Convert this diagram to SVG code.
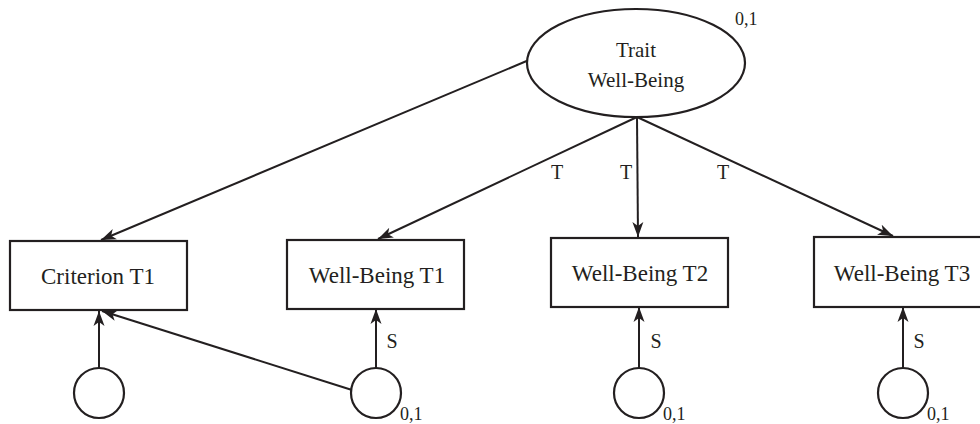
<svg xmlns="http://www.w3.org/2000/svg" width="980" height="424" viewBox="0 0 980 424">
<defs>
<style>
.box{fill:#fff;stroke:#231f20;stroke-width:2.2}
.ln{fill:none;stroke:#231f20;stroke-width:2}
text{font-family:'Liberation Serif','Times New Roman',Tinos,'DejaVu Serif',serif;fill:#231f20}
.big{font-size:23px}
.mid{font-size:21px}
.sm{font-size:20px}
.xs{font-size:18px}
</style>
<marker id="ah" markerUnits="userSpaceOnUse" markerWidth="16" markerHeight="12" viewBox="0 0 16 12" refX="15" refY="6" orient="auto">
<path d="M0,0.5 L15,6 L0,11.5 L4,6 Z" fill="#231f20"/>
</marker>
</defs>
<rect width="980" height="424" fill="#fff"/>
<g id="connectors">
<line class="ln" x1="529" y1="60" x2="101" y2="240" marker-end="url(#ah)"/>
<line class="ln" x1="637" y1="117" x2="378" y2="239" marker-end="url(#ah)"/>
<line class="ln" x1="637" y1="117" x2="638" y2="237" marker-end="url(#ah)"/>
<line class="ln" x1="637" y1="117" x2="893" y2="236" marker-end="url(#ah)"/>
<line class="ln" x1="99" y1="368" x2="99" y2="311" marker-end="url(#ah)"/>
<line class="ln" x1="352" y1="390" x2="102" y2="311" marker-end="url(#ah)"/>
<line class="ln" x1="376" y1="368" x2="376" y2="309" marker-end="url(#ah)"/>
<line class="ln" x1="639" y1="368" x2="639" y2="307" marker-end="url(#ah)"/>
<line class="ln" x1="903" y1="368" x2="903" y2="307" marker-end="url(#ah)"/>
<text class="sm" x="557" y="179" text-anchor="middle">T</text>
<text class="sm" x="626" y="179" text-anchor="middle">T</text>
<text class="sm" x="723" y="179" text-anchor="middle">T</text>
<text class="sm" x="392" y="348" text-anchor="middle">S</text>
<text class="sm" x="656" y="348" text-anchor="middle">S</text>
<text class="sm" x="919" y="348" text-anchor="middle">S</text>
</g>
<g id="trait">
<ellipse class="box" cx="636" cy="63" rx="109" ry="54"/>
<text class="mid" x="636" y="57" text-anchor="middle">Trait</text>
<text class="mid" x="636" y="87" text-anchor="middle">Well-Being</text>
<text class="xs" x="735" y="25">0,1</text>
</g>
<g id="criterion-t1">
<rect class="box" x="10" y="241" width="177" height="69"/>
<text class="big" x="98" y="284" text-anchor="middle">Criterion T1</text>
</g>
<g id="wb-t1">
<rect class="box" x="287" y="240" width="177" height="69"/>
<text class="big" x="377" y="283" text-anchor="middle">Well-Being T1</text>
</g>
<g id="wb-t2">
<rect class="box" x="551" y="238" width="177" height="69"/>
<text class="big" x="640" y="281" text-anchor="middle">Well-Being T2</text>
</g>
<g id="wb-t3">
<rect class="box" x="814" y="237" width="180" height="70"/>
<text class="big" x="902" y="281" text-anchor="middle">Well-Being T3</text>
</g>
<g id="err-criterion">
<circle class="box" cx="99" cy="393" r="25"/>
</g>
<g id="err-t1">
<circle class="box" cx="376" cy="393" r="25"/>
<text class="xs" x="400" y="420">0,1</text>
</g>
<g id="err-t2">
<circle class="box" cx="639" cy="393" r="25"/>
<text class="xs" x="663" y="420">0,1</text>
</g>
<g id="err-t3">
<circle class="box" cx="903" cy="393" r="25"/>
<text class="xs" x="927" y="420">0,1</text>
</g>
</svg>
